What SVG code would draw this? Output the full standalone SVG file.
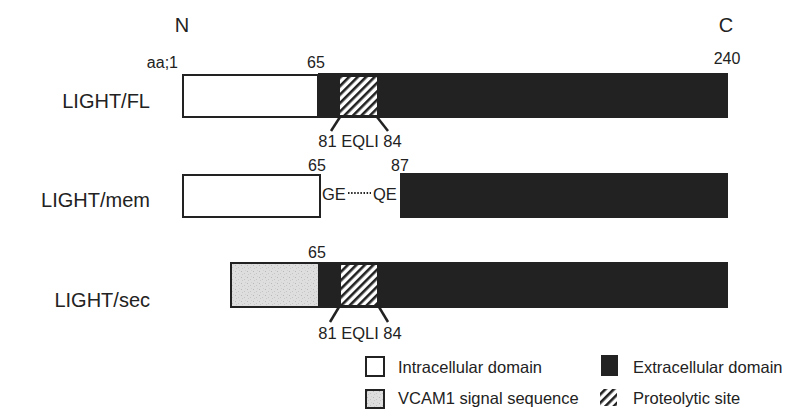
<svg xmlns="http://www.w3.org/2000/svg" width="791" height="409" viewBox="0 0 791 409">
<defs>
<pattern id="hatch" patternUnits="userSpaceOnUse" width="6" height="6" patternTransform="rotate(45)">
<rect width="6" height="6" fill="#fff"/>
<rect x="0" y="0" width="2.6" height="6" fill="#222"/>
</pattern>
<pattern id="speckle" patternUnits="userSpaceOnUse" width="6" height="6">
<rect width="6" height="6" fill="#dedede"/>
<rect x="1" y="1" width="1" height="1" fill="#b8b8b8"/>
<rect x="4" y="3" width="1" height="1" fill="#c4c4c4"/>
<rect x="2" y="4" width="1" height="1" fill="#c8c8c8"/>
<rect x="5" y="0" width="1" height="1" fill="#cfcfcf"/>
</pattern>
</defs>
<style>
text{font-family:"Liberation Sans",Arial,Helvetica,sans-serif;fill:#222}
.lab{font-size:20px}
.num{font-size:16px}
.site{font-size:16.5px}
.leg{font-size:16.5px}
.end{font-size:20px}
.ext{fill:#222}
.intra{fill:#fff;stroke:#222;stroke-width:2}
.sig{fill:url(#speckle);stroke:#222;stroke-width:2}
.prot{fill:url(#hatch)}
.lead{stroke:#222;stroke-width:2.5;fill:none}
.dots{stroke:#222;stroke-width:2;stroke-dasharray:1.5 1.6;fill:none}
</style>
<rect width="791" height="409" fill="#fff"/>

<g id="termini">
<text class="end" x="182" y="32" text-anchor="middle">N</text>
<text class="end" x="726" y="32" text-anchor="middle">C</text>
</g>

<g id="light-fl">
<text class="lab" x="150" y="108" text-anchor="end">LIGHT/FL</text>
<text class="num" x="178" y="68" text-anchor="end">aa;1</text>
<text class="num" x="316" y="68" text-anchor="middle">65</text>
<text class="num" x="727" y="64" text-anchor="middle">240</text>
<rect class="ext" x="318" y="73" width="410" height="45"/>
<rect class="intra" x="183" y="75" width="135" height="42"/>
<rect class="prot" x="340" y="77" width="37" height="38"/>
<text class="site" x="360" y="147" text-anchor="middle">81 EQLI 84</text>
</g>

<g id="light-mem">
<text class="lab" x="150" y="207" text-anchor="end">LIGHT/mem</text>
<text class="num" x="317" y="171" text-anchor="middle">65</text>
<text class="num" x="400" y="171" text-anchor="middle">87</text>
<rect class="intra" x="183" y="175" width="137" height="42"/>
<rect class="ext" x="400" y="173" width="328" height="45"/>
<text class="site" x="322" y="200">GE</text>
<text class="site" x="373" y="200">QE</text>
</g>

<g id="light-sec">
<text class="lab" x="150" y="307" text-anchor="end">LIGHT/sec</text>
<text class="num" x="317" y="258" text-anchor="middle">65</text>
<rect class="ext" x="318" y="262" width="410" height="46"/>
<rect class="sig" x="231" y="263" width="88" height="44"/>
<rect class="prot" x="341" y="265" width="36" height="40"/>
<text class="site" x="360" y="339" text-anchor="middle">81 EQLI 84</text>
</g>

<g id="connectors">
<line class="lead" x1="340" y1="117" x2="331" y2="131"/>
<line class="lead" x1="377" y1="117" x2="388" y2="131"/>
<line class="dots" x1="348" y1="193" x2="371" y2="193"/>
<line class="lead" x1="339" y1="307" x2="330" y2="322"/>
<line class="lead" x1="379" y1="307" x2="388" y2="322"/>
</g>

<g id="legend-intracellular">
<rect class="intra" x="366" y="357" width="18" height="19"/>
<text class="leg" x="398" y="373">Intracellular domain</text>
</g>
<g id="legend-extracellular">
<rect class="ext" x="601" y="355" width="17" height="21"/>
<text class="leg" x="633" y="373">Extracellular domain</text>
</g>
<g id="legend-signal">
<rect class="sig" x="366" y="390" width="18" height="18"/>
<text class="leg" x="398" y="404">VCAM1 signal sequence</text>
</g>
<g id="legend-proteolytic">
<rect class="prot" x="600" y="389" width="17" height="17"/>
<text class="leg" x="633" y="404">Proteolytic site</text>
</g>
</svg>
